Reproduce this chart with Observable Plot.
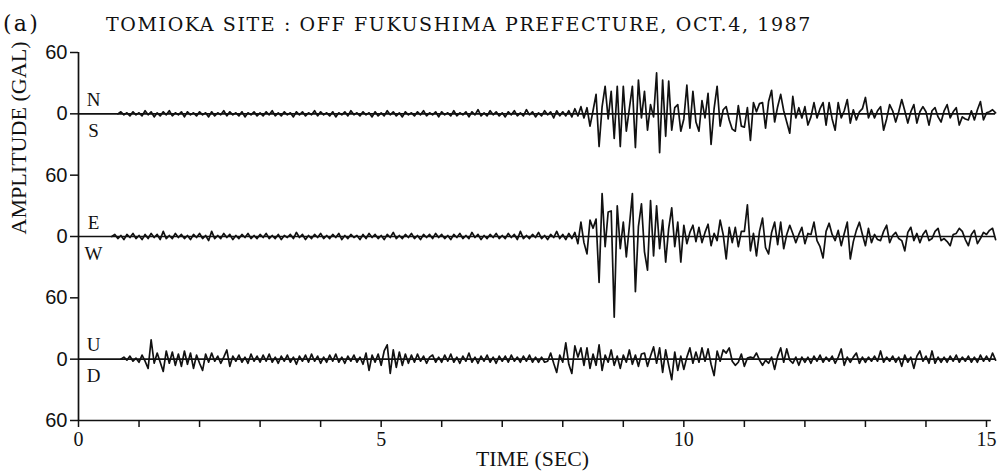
<!DOCTYPE html>
<html><head><meta charset="utf-8">
<script src="https://cdn.jsdelivr.net/npm/d3@7"></script>
<script src="https://cdn.jsdelivr.net/npm/@observablehq/plot@0.6"></script>
<style>
body{margin:0;background:#fff;width:1008px;height:474px;overflow:hidden}
#head{position:relative;height:36px;font-family:"DejaVu Serif",serif;font-size:19px;color:#111}
#head span{position:absolute;white-space:nowrap;line-height:19px;top:15px}
#tag{font-size:22px;top:14px !important}
</style></head><body>
<div id="head"><span id="tag"></span><span id="title"></span></div>
<div id="chart"></div>
<script>
// ---- texts ----
const panelTag = "(a)";
const titleText = "TOMIOKA SITE : OFF FUKUSHIMA PREFECTURE, OCT.4, 1987";
const yAxisLabel = "AMPLITUDE (GAL)";
const xAxisLabel = "TIME (SEC)";

// ---- components ----
const components = ["NS", "EW", "UD"];
const upperLabels = ["N", "E", "U"];
const lowerLabels = ["S", "W", "D"];

// ---- ticks ----
const yTicks = [180, 120, 60, 0, -60, -120, -180];
const yTickLabels = ["60", "0", "60", "0", "60", "0", "60"];
const xMinorTicks = [0,1,2,3,4,5,6,7,8,9,10,11,12,13,14,15];
const xLabelTicks = [0, 5, 10, 15];

// ---- sampled accelerations (gal), dt = 0.05 s, starting t = 0 ----
const dt = 0.05;
const nsValues = [
 0,0,0,0,0,0,0,0,0,0,0,0,0,0,2,-1,1,-2,2,-1,
 1,-2,3,-1,2,-3,1,-2,2,-1,3,-2,1,-1,2,-3,2,-1,1,-2,
 2,-1,1,-3,2,-2,1,-1,3,-2,2,-1,1,-2,2,-3,1,-1,2,-2,
 1,-2,2,-1,3,-2,1,-2,2,-1,1,-3,2,-1,2,-2,1,-1,3,-2,
 2,-1,1,-2,2,-3,1,-1,2,-2,3,-1,1,-2,2,-1,1,-3,2,-2,
 1,-2,3,-1,2,-2,1,-3,2,-1,1,-2,2,-1,3,-2,1,-1,2,-3,
 2,-1,1,-2,3,-2,1,-1,2,-3,2,-1,4,-2,1,-2,3,-1,2,-2,
 1,-3,2,-1,3,-2,1,-2,4,-1,2,-3,1,-2,3,-1,2,-4,3,-2,
 2,-2,3,-3,5,-2,7,-4,6,-12,3,19,-32,7,27,-5,22,-24,27,-32,
 27,-17,5,27,-33,33,-4,22,-16,9,-3,40,-38,33,-22,32,-16,6,9,-17,
 -5,28,-14,22,-8,-17,13,-4,20,-30,5,27,-12,4,7,-6,-15,-17,8,-12,
 -13,6,-26,11,2,10,11,-14,12,23,-8,7,19,3,-8,-19,17,-4,6,-4,
 7,-11,-3,11,-4,5,11,-11,11,-5,-16,11,-4,3,14,-9,4,-6,2,5,
 16,-4,4,-4,3,7,-16,-5,9,3,-8,2,14,3,-9,2,9,-9,2,7,
 2,-11,3,6,-3,-8,3,9,-4,2,6,-11,-3,-5,-6,3,-6,4,12,-6,
 1,2,4,1
];
const ewValues = [
 0,0,0,0,0,0,0,0,0,0,0,0,2,-2,1,-3,2,-1,3,-2,
 1,-3,2,-2,3,-1,2,-3,5,-2,1,-2,3,-1,2,-2,1,-3,2,-1,
 3,-2,1,-4,5,-2,1,-2,3,-1,2,-3,1,-2,2,-1,3,-2,1,-2,
 2,-1,3,-2,1,-2,2,-3,1,-1,2,-2,4,-1,2,-3,1,-2,2,-1,
 3,-2,1,-2,2,-1,3,-3,1,-2,2,-1,1,-3,2,-2,3,-1,2,-2,
 1,-3,2,-1,4,-2,1,-2,2,-1,3,-2,1,-3,2,-1,2,-2,3,-1,
 2,-2,1,-3,2,-1,3,-2,1,-2,4,-1,2,-3,1,-2,2,-1,3,-2,
 1,-2,3,-1,2,-3,5,-2,1,-2,2,-1,4,-2,1,-3,2,-1,5,-2,
 2,-3,3,-2,4,-7,14,-6,-17,16,8,17,-45,42,-10,24,25,-79,30,-12,
 14,-20,10,42,-54,10,32,-15,-33,35,-19,30,-12,16,-25,8,28,-10,14,-25,
 11,-7,4,11,-5,9,-6,4,12,-9,3,-4,16,2,-22,9,-6,9,-10,5,
 5,31,-14,3,-19,5,18,-11,-17,4,14,-8,14,-12,2,11,3,-6,2,9,
 -7,3,2,14,-4,-10,-21,5,13,2,-4,6,-9,3,14,-22,-5,6,14,2,
 -9,8,-6,2,-3,-4,5,11,-6,1,4,-2,-4,-14,4,9,-4,3,-6,2,
 6,-4,-2,5,8,-4,-2,-5,-9,2,3,8,5,-3,-9,2,6,-7,-2,4,
 2,6,8,-3
];
const udValues = [
 0,0,0,0,0,0,0,0,0,0,0,0,0,0,0,2,-1,3,-2,1,
 -3,4,-2,-9,19,-4,6,-3,-12,8,-4,7,-6,5,-7,8,-5,6,-9,4,
 -4,-11,5,-3,6,-2,3,-4,2,9,-7,3,-2,4,-3,2,-4,5,-2,3,
 -3,4,-2,5,-3,2,-4,3,-2,4,-3,2,-5,3,-2,4,-3,5,-2,3,
 -4,2,-3,4,-2,5,-3,2,-4,3,-2,4,-3,2,-5,6,-11,4,-3,5,
 -6,8,14,-14,9,-8,7,-6,5,-4,4,-3,5,-2,3,-4,2,4,-3,2,
 -3,4,-2,5,-3,2,-4,3,-2,6,-3,2,-4,3,-2,4,-3,2,-4,3,
 -2,3,-3,4,-2,2,-3,3,-2,4,-3,2,-3,2,-3,-2,6,-4,-13,4,
 -3,16,-5,-14,13,2,11,-6,11,-9,5,-6,14,-11,4,-3,9,-6,3,-9,
 4,-3,9,-5,4,-7,5,6,-7,3,12,-4,11,-13,9,-6,-20,7,-11,3,
 -10,2,11,-4,7,-3,11,-2,10,-5,-16,8,-2,9,6,11,-2,-6,-3,5,
 -7,1,2,1,6,-1,-6,-1,-4,2,-10,3,11,-3,10,-1,-4,2,-6,2,
 -3,2,-4,3,-2,4,-3,2,-2,3,-4,2,10,-6,2,-3,2,6,-4,2,
 -3,2,-2,3,-2,8,-3,2,-2,3,-3,2,-7,4,-3,2,-9,3,8,-2,
 3,-4,8,-4,2,-3,2,-3,3,-2,4,-3,2,-2,3,-3,2,-3,4,-2,
 3,-2,6,-1
];
const valueSets = [nsValues, ewValues, udValues];

// ---- layout helpers (not data) ----
const spacing = 120;                     // vertical offset between traces (gal)
const offsetOf = i => spacing - spacing * i;
const rows = [];
valueSets.forEach((vals, ci) => {
  let first = vals.findIndex(v => v !== 0);
  first = Math.max(0, first - 1);
  for (let i = first; i < vals.length; i++) {
    rows.push({comp: components[ci], t: i * dt, v: vals[i] + offsetOf(ci)});
  }
});
const baseRows = components.map((c, i) => ({comp: c, y: offsetOf(i), up: upperLabels[i], low: lowerLabels[i]}));

// ---- header ----
const tagEl = document.getElementById("tag");
const titleEl = document.getElementById("title");
tagEl.textContent = panelTag;
titleEl.textContent = titleText;
tagEl.style.left = "3px";
titleEl.style.left = "106px";
function fitSpan(el, target) {
  const n = el.textContent.length;
  const w = el.getBoundingClientRect().width;
  el.style.letterSpacing = ((target - w) / n) + "px";
}
fitSpan(tagEl, 37);
fitSpan(titleEl, 706);

const ink = "#111";
const chart = Plot.plot({
  width: 1008,
  height: 438,
  marginTop: 16,
  marginBottom: 54,
  marginLeft: 78,
  marginRight: 22,
  x: {domain: [0, 15]},
  y: {domain: [-180, 180]},
  style: {fontFamily: "Liberation Serif", fontSize: "19px", color: ink, background: "#fff"},
  marks: [
    Plot.ruleY(baseRows, {y: "y", x1: 0, x2: 15.15, stroke: ink, strokeWidth: 1.7}),
    Plot.ruleY([-180], {x1: 0, x2: 15.08, stroke: ink, strokeWidth: 1.7}),
    Plot.ruleX([0], {y1: -180, y2: 180, stroke: ink, strokeWidth: 1.7}),
    Plot.line(rows, {x: "t", y: "v", z: "comp", stroke: ink, strokeWidth: 1.7, strokeLinejoin: "round"}),
    Plot.axisY({ticks: yTicks, tickFormat: d => yTickLabels[yTicks.indexOf(d)], tickSize: 8, tickPadding: 3,
      fontFamily: "Liberation Sans", fontSize: 20, label: null, stroke: ink, strokeWidth: 1.5}),
    Plot.axisX({ticks: xMinorTicks, tickSize: 7, tickFormat: () => "", label: null, stroke: ink, strokeWidth: 1.5}),
    Plot.axisX({ticks: xLabelTicks, tickSize: 0, tickPadding: 11, label: null, fontSize: 20, fontFamily: "Liberation Serif"}),
    Plot.text(baseRows, {x: 0, y: "y", text: "up", dx: 15, dy: -14, fontSize: 19, fill: ink}),
    Plot.text(baseRows, {x: 0, y: "y", text: "low", dx: 15, dy: 17, fontSize: 19, fill: ink}),
    Plot.text([yAxisLabel], {frameAnchor: "left", dx: -59, dy: -2, rotate: -90, fontSize: 20, fill: ink}),
    Plot.text([xAxisLabel], {frameAnchor: "bottom", dy: 45, fontSize: 20, fill: ink})
  ]
});
document.getElementById("chart").appendChild(chart);
chart.querySelectorAll("text").forEach(t => {
  if (t.textContent === yAxisLabel) { t.setAttribute("textLength", 193); t.setAttribute("lengthAdjust", "spacingAndGlyphs"); }
  if (t.textContent === xAxisLabel) { t.setAttribute("textLength", 113); t.setAttribute("lengthAdjust", "spacingAndGlyphs"); }
});
</script>
</body></html>
